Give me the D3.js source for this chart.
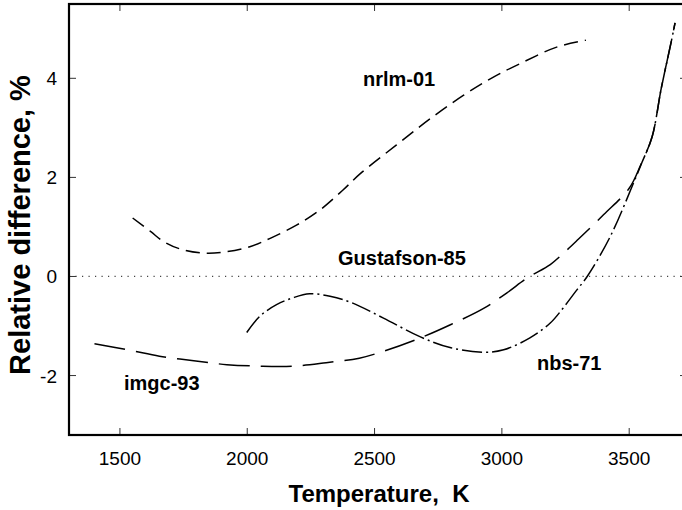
<!DOCTYPE html>
<html>
<head>
<meta charset="utf-8">
<script src="https://cdn.jsdelivr.net/npm/d3@7"></script>
<style>
  html, body { margin: 0; padding: 0; background: #fff; }
  svg { display: block; font-family: "Liberation Sans", Arial, sans-serif; }
</style>
</head>
<body>
<svg id="chart" width="682" height="510"></svg>
<script>
// Relative difference of each temperature scale realisation against the reference
const xTicks = [1500, 2000, 2500, 3000, 3500];
const yTicks = [-2, 0, 2, 4];

const nrlmT = [1550, 1620, 1670, 1740, 1835, 1920, 2010, 2090, 2195, 2285, 2375, 2445, 2585, 2720, 2850, 2965, 3085, 3215, 3330];
const nrlmV = [1.18, 0.91, 0.71, 0.55, 0.47, 0.50, 0.60, 0.77, 1.04, 1.34, 1.74, 2.08, 2.65, 3.19, 3.66, 4.02, 4.33, 4.63, 4.77];

const imgcT = [1400, 1540, 1655, 1790, 1920, 2050, 2180, 2310, 2440, 2535, 2680, 2800, 2930, 3020, 3100, 3190, 3240, 3300, 3400, 3500, 3545, 3590, 3626, 3666, 3680];
const imgcV = [-1.36, -1.49, -1.61, -1.70, -1.78, -1.81, -1.81, -1.74, -1.65, -1.51, -1.24, -0.97, -0.64, -0.33, -0.03, 0.24, 0.46, 0.75, 1.25, 1.78, 2.25, 2.82, 3.80, 4.76, 5.12];

const nbsT = [1998, 2050, 2115, 2180, 2245, 2325, 2405, 2535, 2680, 2800, 2930, 3007, 3110, 3190, 3240, 3290, 3335, 3425, 3514, 3550, 3590, 3626, 3666, 3680];
const nbsV = [-1.13, -0.80, -0.57, -0.43, -0.35, -0.40, -0.52, -0.84, -1.22, -1.44, -1.53, -1.48, -1.24, -0.94, -0.64, -0.30, 0.0, 0.80, 1.85, 2.30, 2.82, 3.80, 4.76, 5.12];

const seriesLabels = ["nrlm-01", "imgc-93", "nbs-71", "Gustafson-85"];

const svg = d3.select("#chart");
const plotL = 69, plotR = 687, plotT = 4, plotB = 435;

const x = d3.scaleLinear().domain([1300, 3727]).range([plotL, plotR]);
const y = d3.scaleLinear().domain([-3.2, 5.5]).range([plotB, plotT]);

// reference line at zero
svg.append("line")
  .attr("x1", plotL).attr("x2", plotR)
  .attr("y1", y(0)).attr("y2", y(0))
  .attr("stroke", "#444").attr("stroke-width", 1.2)
  .attr("stroke-dasharray", "1.2,5.3");

const line = d3.line()
  .x(d => x(d[0])).y(d => y(d[1]))
  .curve(d3.curveCatmullRom.alpha(0.5));

function draw(ts, vs, dash) {
  svg.append("path")
    .datum(ts.map((t, i) => [t, vs[i]]))
    .attr("d", line)
    .attr("fill", "none")
    .attr("stroke", "#000")
    .attr("stroke-width", 1.5)
    .attr("stroke-dasharray", dash);
}
draw(nrlmT, nrlmV, "14,7");
draw(imgcT, imgcV, "31,11");
draw(nbsT, nbsV, "20,4,2,4");

// frame ticks, pointing inward on all four sides
const tickG = svg.append("g").attr("stroke", "#333").attr("stroke-width", 1);
xTicks.forEach(t => {
  tickG.append("line").attr("x1", x(t)).attr("x2", x(t)).attr("y1", plotB).attr("y2", plotB - 7);
  tickG.append("line").attr("x1", x(t)).attr("x2", x(t)).attr("y1", plotT).attr("y2", plotT + 7);
});
yTicks.forEach(v => {
  tickG.append("line").attr("x1", plotL).attr("x2", plotL + 7).attr("y1", y(v)).attr("y2", y(v));
  tickG.append("line").attr("x1", plotR).attr("x2", plotR - 7).attr("y1", y(v)).attr("y2", y(v));
});

// frame
svg.append("rect")
  .attr("x", plotL).attr("y", plotT)
  .attr("width", plotR - plotL).attr("height", plotB - plotT)
  .attr("fill", "none").attr("stroke", "#000").attr("stroke-width", 2.2);

// tick labels
svg.append("g").selectAll("text").data(xTicks).join("text")
  .attr("x", d => x(d)).attr("y", 465)
  .attr("text-anchor", "middle")
  .attr("font-size", 19)
  .text(d => d);

svg.append("g").selectAll("text").data(yTicks).join("text")
  .attr("x", 57).attr("y", d => y(d) + 7)
  .attr("text-anchor", "end")
  .attr("font-size", 19)
  .text(d => d);

// axis titles
svg.append("text")
  .attr("x", 379).attr("y", 502)
  .attr("text-anchor", "middle")
  .attr("font-size", 24).attr("font-weight", "bold")
  .style("white-space", "pre")
  .text("Temperature,  K");

svg.append("text")
  .attr("transform", "translate(30,225) rotate(-90)")
  .attr("text-anchor", "middle")
  .attr("font-size", 29).attr("font-weight", "bold")
  .text("Relative difference, %");

// curve labels
const labelPos = [[363, 86], [124, 390], [537, 370], [338, 265]];
svg.append("g").selectAll("text").data(seriesLabels).join("text")
  .attr("x", (d, i) => labelPos[i][0]).attr("y", (d, i) => labelPos[i][1])
  .attr("font-size", 20).attr("font-weight", "bold")
  .text(d => d);
</script>
</body>
</html>
